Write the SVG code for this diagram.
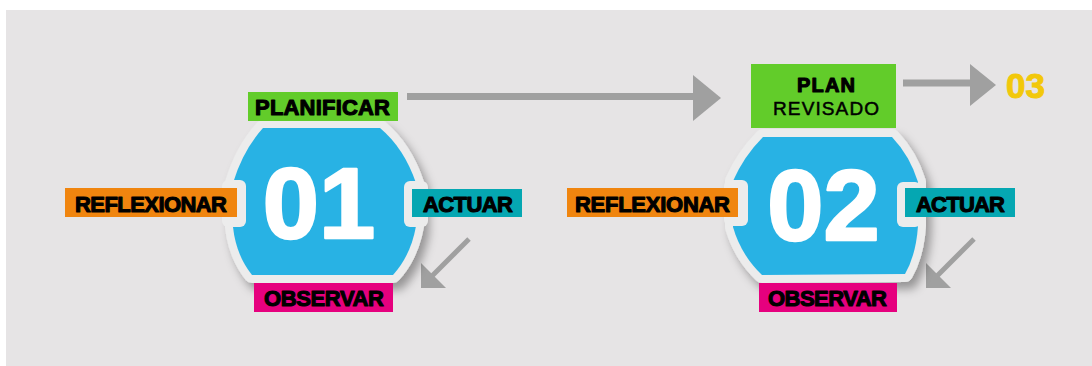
<svg xmlns="http://www.w3.org/2000/svg" width="1092" height="366" viewBox="0 0 1092 366">
<defs>
<style>
.lbl{font-family:"Liberation Sans",Arial,sans-serif;font-weight:bold;font-size:22px;fill:#000;stroke:#000;stroke-width:1.1px;stroke-linejoin:round;}
.reg{font-family:"Liberation Sans",Arial,sans-serif;font-weight:normal;font-size:19px;fill:#000;stroke:#000;stroke-width:0.5px;}
.num{font-family:"Liberation Sans",Arial,sans-serif;font-weight:bold;font-size:101px;fill:#fff;stroke:#fff;stroke-width:2.5px;stroke-linejoin:round;text-anchor:middle;}
.ring{fill:#ececec;stroke:#ececec;stroke-width:16;stroke-linejoin:round;}
.blue{fill:#28b2e4;}
.notch{fill:#ececec;}
.arr{stroke:#a0a0a0;fill:none;}
.head{fill:#a0a0a0;}
</style>
<filter id="sh" x="-20%" y="-20%" width="150%" height="150%">
<feDropShadow dx="5" dy="7" stdDeviation="5" flood-color="#000" flood-opacity="0.35"/>
</filter>
</defs>
<rect x="6" y="10" width="1086" height="356" fill="#e6e4e5"/>

<g id="connectors">
<line class="arr" x1="407" y1="96.5" x2="695" y2="96.5" stroke-width="7"/>
<polygon class="head" points="693,75 721,98 693,121"/>
<line class="arr" x1="903" y1="83" x2="972" y2="83" stroke-width="7"/>
<polygon class="head" points="970,64 996,85 970,106"/>
<line class="arr" x1="469" y1="239" x2="432" y2="276" stroke-width="5"/>
<polygon class="head" points="421,288 421,263 446,288"/>
<line class="arr" x1="974" y1="239" x2="937" y2="276" stroke-width="5"/>
<polygon class="head" points="926,288 926,263 951,288"/>
</g>

<g id="node1">
<path class="ring" filter="url(#sh)" d="M263,128 L380,128 Q404,148 416,183 L416,226 Q411,255 393,275 L252,275 Q236,255 233,227 L233,183 Q243,150 263,128 Z"/>
<path class="blue" d="M263,128 L380,128 Q404,148 416,183 L416,226 Q411,255 393,275 L252,275 Q236,255 233,227 L233,183 Q243,150 263,128 Z"/>
<rect class="notch" x="222" y="180" width="24" height="47" rx="6"/>
<rect class="notch" x="404" y="181" width="24" height="46" rx="6"/>
<text class="num" x="319" y="238">01</text>
</g>

<g id="planificar">
<rect x="248" y="92" width="150" height="29" fill="#62cc2a"/>
<text class="lbl" x="255" y="115" textLength="135" lengthAdjust="spacing">PLANIFICAR</text>
</g>
<g id="reflexionar1">
<rect x="65" y="188" width="172" height="29" fill="#f0850f"/>
<text class="lbl" x="75" y="212" textLength="152" lengthAdjust="spacing">REFLEXIONAR</text>
</g>
<g id="actuar1">
<rect x="412" y="189" width="110" height="28" fill="#05a7b2"/>
<text class="lbl" x="423" y="212" textLength="90" lengthAdjust="spacing">ACTUAR</text>
</g>
<g id="observar1">
<rect x="254" y="283" width="139" height="29" fill="#e6007e"/>
<text class="lbl" x="264" y="306" textLength="120" lengthAdjust="spacing">OBSERVAR</text>
</g>

<g id="node2">
<path class="ring" filter="url(#sh)" d="M763,137 L892,137 Q910,156 918,182 L918,226 Q916,255 905,274 L762,275 Q741,255 733,227 L733,181 Q744,156 763,137 Z"/>
<path class="blue" d="M763,137 L892,137 Q910,156 918,182 L918,226 Q916,255 905,274 L762,275 Q741,255 733,227 L733,181 Q744,156 763,137 Z"/>
<rect class="notch" x="724" y="180" width="24" height="46" rx="6"/>
<rect class="notch" x="897" y="182" width="24" height="45" rx="6"/>
<text class="num" x="823.5" y="240">02</text>
</g>

<g id="planrevisado">
<rect x="751" y="64" width="145" height="64" fill="#62cc2a"/>
<text class="lbl" x="797" y="92" font-size="20" textLength="58" lengthAdjust="spacing" style="font-size:20px">PLAN</text>
<text class="reg" x="773" y="115" textLength="106" lengthAdjust="spacing">REVISADO</text>
</g>
<g id="reflexionar2">
<rect x="567" y="188" width="171" height="29" fill="#f0850f"/>
<text class="lbl" x="575" y="212" textLength="155" lengthAdjust="spacing">REFLEXIONAR</text>
</g>
<g id="actuar2">
<rect x="905" y="188" width="110" height="29" fill="#05a7b2"/>
<text class="lbl" x="916" y="212" textLength="89" lengthAdjust="spacing">ACTUAR</text>
</g>
<g id="observar2">
<rect x="759" y="283" width="138" height="29" fill="#e6007e"/>
<text class="lbl" x="768" y="306" textLength="119" lengthAdjust="spacing">OBSERVAR</text>
</g>

<g id="n03">
<text x="1025.5" y="98" font-family="Liberation Sans, Arial, sans-serif" font-weight="bold" font-size="35" fill="#f2c80a" stroke="#f2c80a" stroke-width="1" text-anchor="middle">03</text>
</g>
</svg>
